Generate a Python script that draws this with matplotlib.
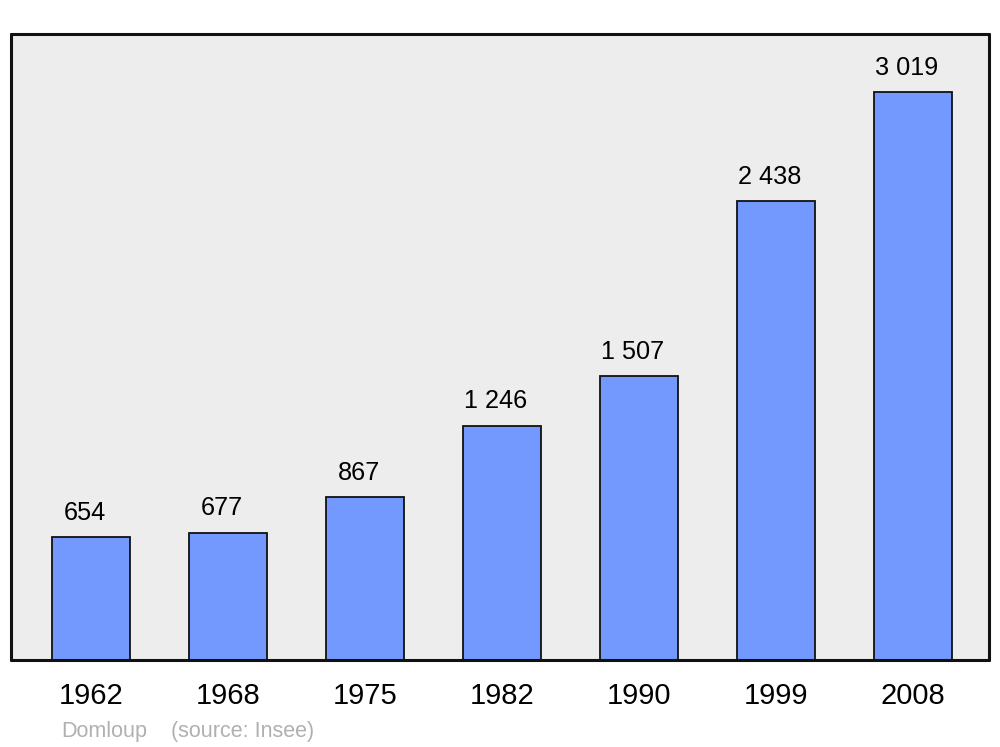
import matplotlib
matplotlib.use("Agg")
import matplotlib.pyplot as plt

years = ["1962", "1968", "1975", "1982", "1990", "1999", "2008"]
population = [654, 677, 867, 1246, 1507, 2438, 3019]
value_labels = ["654", "677", "867", "1 246", "1 507", "2 438", "3 019"]

plt.rcParams['font.family'] = ['Liberation Sans', 'DejaVu Sans']

fig = plt.figure(figsize=(10, 7.47), dpi=100)
ax = fig.add_axes([0.011, 1 - 660/747, 0.978, (660 - 34)/747])
ax.set_facecolor('#EDEDED')

x = list(range(len(years)))
ax.bar(x, population, width=0.57, color='#7399FF', edgecolor='#111111',
       linewidth=1.3, zorder=2)

for xi, v, lab in zip(x, population, value_labels):
    ax.annotate(lab, (xi, v), xytext=(-4.5, 12.5), textcoords='offset points',
                ha='center', va='baseline', fontsize=18.2, color='black')

ax.set_xlim(-0.588, 6.559)
ax.set_ylim(0, 3327)
ax.set_yticks([])
ax.set_xticks(x)
ax.set_xticklabels(years, fontsize=21)
ax.tick_params(axis='x', length=0, pad=16)
for s in ax.spines.values():
    s.set_linewidth(2.2)
    s.set_color('#111111')
    s.set_capstyle('round')
    s.set_zorder(3)

fig.text(0.061, 1 - 731.5/747, "Domloup", fontsize=15.5, color='#B0B0B0',
         ha='left', va='center')
fig.text(0.171, 1 - 731.5/747, "(source: Insee)", fontsize=15.5, color='#B0B0B0',
         ha='left', va='center')

fig.savefig("out.png", dpi=100, facecolor='white')
